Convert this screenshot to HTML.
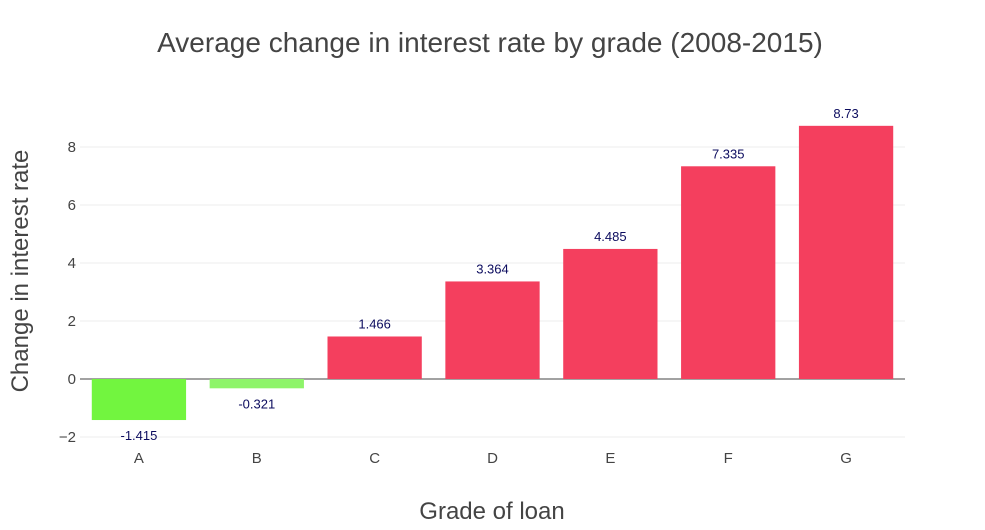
<!DOCTYPE html>
<html><head><meta charset="utf-8"><style>
body{margin:0;background:#fff;font-family:"Liberation Sans",sans-serif}
</style></head><body>
<svg id="chart" width="985" height="525" xmlns="http://www.w3.org/2000/svg">
<text x="490" y="52" text-anchor="middle" font-size="28" fill="#444">Average change in interest rate by grade (2008-2015)</text>
<text x="492" y="519" text-anchor="middle" font-size="24" fill="#444">Grade of loan</text>
<text transform="translate(28,271) rotate(-90)" text-anchor="middle" font-size="24" fill="#444">Change in interest rate</text>
<g id="grid"></g><g id="bars"></g><g id="labels"></g>
</svg>
<script>
const categories=["A","B","C","D","E","F","G"];
const values=[-1.415,-0.321,1.466,3.364,4.485,7.335,8.73];
const valueLabels=["-1.415","-0.321","1.466","3.364","4.485","7.335","8.73"];
const colors=["#72f53f","#8ef46a","#f43f5e","#f43f5e","#f43f5e","#f43f5e","#f43f5e"];
const yTicks=[-2,0,2,4,6,8];
const yTickLabels=["\u22122","0","2","4","6","8"];
const NS="http://www.w3.org/2000/svg";
const x0=80,x1=905,y0px=379,ppu=29;
const band=(x1-x0)/categories.length;
const xs=i=>x0+band*(i+0.5);
const ys=v=>y0px-v*ppu;
const mk=(t,a,p)=>{const e=document.createElementNS(NS,t);for(const k in a)e.setAttribute(k,a[k]);p.appendChild(e);return e;};
const grid=document.getElementById('grid'),bars=document.getElementById('bars'),labels=document.getElementById('labels');
yTicks.forEach((t,i)=>{
  const l=mk('line',{x1:x0,x2:x1,y1:ys(t),y2:ys(t),stroke:t===0?'#444':'#eee','stroke-width':1},grid);
  
  
  const tx=mk('text',{x:x0-4,y:ys(t)+5,'text-anchor':'end','font-size':15,fill:'#444'},grid);
  tx.textContent=yTickLabels[i];
  
  
});
categories.forEach((c,i)=>{
  const v=values[i],w=band*0.8;
  const top=Math.min(ys(v),ys(0)),h=Math.abs(ys(v)-ys(0));
  const r=mk('rect',{x:xs(i)-w/2,y:top,width:w,height:h,fill:colors[i]},bars);
  
  
  const ty=v>=0?ys(v)-8:ys(v)+20;
  const t=mk('text',{x:xs(i),y:ty,'text-anchor':'middle','font-size':13,fill:'#0b0b5e'},labels);
  t.textContent=valueLabels[i];
  
  
  const xl=mk('text',{x:xs(i),y:463,'text-anchor':'middle','font-size':15,fill:'#444'},labels);
  xl.textContent=c;
  
  
});
</script>
</body></html>
